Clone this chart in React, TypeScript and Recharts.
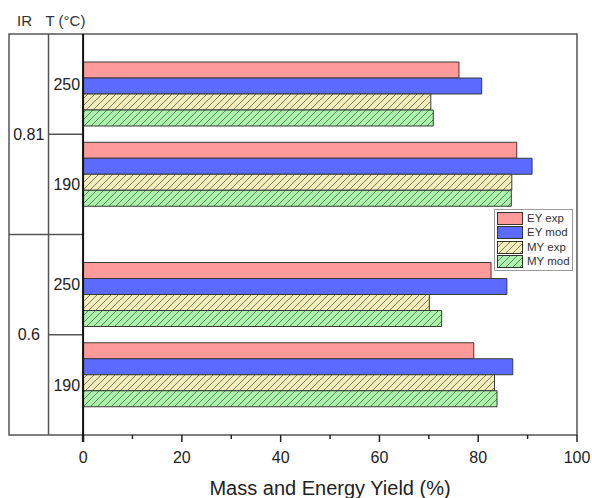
import React from "react";
import {
  BarChart,
  Bar,
  XAxis,
  YAxis,
  ReferenceLine,
  ReferenceArea,
  ReferenceDot,
  Legend,
  Rectangle,
} from "recharts";

// rows top to bottom
const IR_RATIO = ["0.81", "0.81", "0.6", "0.6"];
const TEMP_C = ["250", "190", "250", "190"];

// yields in %
const EY_EXP = [76.1, 87.8, 82.6, 79.1];
const EY_MOD = [80.7, 90.9, 85.8, 87.0];
const MY_EXP = [70.4, 86.8, 70.1, 83.3];
const MY_MOD = [70.9, 86.7, 72.6, 83.8];

const X_TICKS = [0, 10, 20, 30, 40, 50, 60, 70, 80, 90, 100];
const X_LABELS = [0, 20, 40, 60, 80, 100];

// x domain reaches left of 0 to make room for the IR / T columns
const X_MIN = -15;
const X_MAX = 100;
const X_COL = -7;

const SERIES = [
  { key: "eyExp", name: "EY exp", fill: "#ff9a9a" },
  { key: "eyMod", name: "EY mod", fill: "#5b6bff" },
  { key: "myExp", name: "MY exp", fill: "url(#hatchYellow)" },
  { key: "myMod", name: "MY mod", fill: "url(#hatchGreen)" },
];

const rows = TEMP_C.map((t, i) => ({
  row: `${IR_RATIO[i]}|${t}`,
  ir: IR_RATIO[i],
  temp: t,
  eyExp: EY_EXP[i],
  eyMod: EY_MOD[i],
  myExp: MY_EXP[i],
  myMod: MY_MOD[i],
}));

const isLead = (i: number) => i === 0 || IR_RATIO[i] !== IR_RATIO[i - 1];

const FONT = "'Liberation Sans', Arial, sans-serif";
const LINE = "#555";

function ShiftedBar(props: any) {
  const { x, y, width, height, fill, payload } = props;
  const i = rows.findIndex((r) => r.row === payload?.row);
  // bars of each IR pair sit closer to the line between them
  const dy = isLead(i) ? 10 : -10;
  return (
    <Rectangle
      x={x}
      y={y + dy}
      width={width}
      height={height}
      fill={fill}
      stroke="#3a3a3a"
      strokeWidth={1}
    />
  );
}

function XTick(props: any) {
  const { x, y, payload } = props;
  const v = payload.value;
  const major = X_LABELS.includes(v);
  return (
    <g>
      <line
        x1={x}
        y1={y}
        x2={x}
        y2={y + (major ? 7 : 4)}
        stroke="#222"
        strokeWidth={v === 0 ? 2.5 : 1.5}
      />
      {major && (
        <text x={x} y={y + 28} textAnchor="middle" fontSize={16} fill="#222">
          {v}
        </text>
      )}
    </g>
  );
}

function Swatch({ fill, id }: { fill: string; id: string }) {
  return (
    <svg width={26} height={13} style={{ display: "block" }}>
      <defs>
        <HatchPattern id={`${id}Lg`} base={id === "hatchYellow" ? "#f3edb9" : "#a9f4a9"} />
      </defs>
      <rect
        x={0.5}
        y={0.5}
        width={25}
        height={12}
        fill={fill.startsWith("url") ? `url(#${id}Lg)` : fill}
        stroke="#333"
        strokeWidth={1}
      />
    </svg>
  );
}

function LegendBox(props: any) {
  const items = (props.payload ?? []).length
    ? props.payload.map((p: any) => SERIES.find((s) => s.name === p.value) ?? SERIES[0])
    : SERIES;
  return (
    <div
      style={{
        border: "1px solid #9a9a9a",
        background: "#fff",
        padding: "1px 2px",
        fontFamily: FONT,
      }}
    >
      {items.map((s: any) => (
        <div key={s.key} style={{ display: "flex", alignItems: "center", height: 14.5 }}>
          <Swatch fill={s.fill} id={s.fill.replace(/^url\(#|\)$/g, "")} />
          <span style={{ fontSize: 11.5, color: "#333", marginLeft: 4, lineHeight: "13px" }}>
            {s.name}
          </span>
        </div>
      ))}
    </div>
  );
}

function HatchPattern({ id, base }: { id: string; base: string }) {
  return (
    <pattern id={id} patternUnits="userSpaceOnUse" width={7} height={7}>
      <rect width={7} height={7} fill={base} />
      <path
        d="M0,7 L7,0 M-1,1 L1,-1 M6,8 L8,6"
        stroke="#555"
        strokeWidth={0.9}
        strokeOpacity={0.85}
      />
    </pattern>
  );
}

export default function App() {
  return (
    <div
      style={{
        position: "absolute",
        left: 0,
        top: 0,
        width: 592,
        height: 498,
        background: "#fff",
        fontFamily: FONT,
      }}
    >
      <svg
        width={592}
        height={34}
        style={{ position: "absolute", left: 0, top: 0, pointerEvents: "none" }}
      >
        <text x={17} y={26} fontSize={15} fill="#333">
          IR
        </text>
        <text x={45.5} y={26} fontSize={15} fill="#333">
          T (°C)
        </text>
      </svg>
      <BarChart
        width={592}
        height={498}
        data={rows}
        layout="vertical"
        margin={{ top: 34, right: 15, bottom: 0, left: 9 }}
        barSize={16}
        barGap={0}
      >
        <defs>
          <HatchPattern id="hatchYellow" base="#f3edb9" />
          <HatchPattern id="hatchGreen" base="#a9f4a9" />
        </defs>
        <XAxis
          type="number"
          domain={[X_MIN, X_MAX]}
          ticks={X_TICKS}
          interval={0}
          tick={<XTick />}
          tickSize={0}
          tickMargin={0}
          tickLine={false}
          axisLine={false}
          height={63}
        />
        <YAxis type="category" dataKey="row" hide />
        {SERIES.map((s) => (
          <Bar
            key={s.key}
            dataKey={s.key}
            name={s.name}
            fill={s.fill}
            shape={<ShiftedBar />}
            isAnimationActive={false}
          />
        ))}
        <Legend
          layout="horizontal"
          verticalAlign="middle"
          align="center"
          content={<LegendBox />}
          wrapperStyle={{ left: 494, top: 209, width: "auto" }}
        />
        <ReferenceArea
          x1={X_MIN}
          x2={X_MAX}
          fill="none"
          fillOpacity={0}
          stroke={LINE}
          strokeWidth={1.5}
        />
        <ReferenceArea
          x1={0}
          x2={X_MAX}
          fill="none"
          fillOpacity={0}
          stroke="none"
          label={{
            value: "Mass and Energy Yield (%)",
            position: "bottom",
            offset: 46,
            fontSize: 20,
            fill: "#222",
          }}
        />
        <ReferenceLine x={X_COL} stroke={LINE} strokeWidth={1.5} />
        {rows.map((r, i) =>
          i > 0 ? (
            <ReferenceLine
              key={`sep-${r.row}`}
              segment={[
                { x: isLead(i) ? X_MIN : X_COL, y: r.row },
                { x: 0, y: r.row },
              ]}
              position="start"
              stroke={LINE}
              strokeWidth={1.5}
            />
          ) : null
        )}
        {rows.map((r, i) =>
          !isLead(i) ? (
            <ReferenceLine
              key={`ir-${r.row}`}
              segment={[
                { x: X_MIN, y: r.row },
                { x: X_COL, y: r.row },
              ]}
              position="start"
              stroke="none"
              label={{ value: r.ir, position: "center", fontSize: 16, fill: "#222" }}
            />
          ) : null
        )}
        {rows.map((r) => (
          <ReferenceDot
            key={`t-${r.row}`}
            x={0}
            y={r.row}
            r={0}
            fill="none"
            stroke="none"
            label={{ value: r.temp, position: "left", offset: 3, fontSize: 16, fill: "#222" }}
          />
        ))}
        <ReferenceLine x={0} stroke="#111" strokeWidth={2} />
      </BarChart>
    </div>
  );
}
